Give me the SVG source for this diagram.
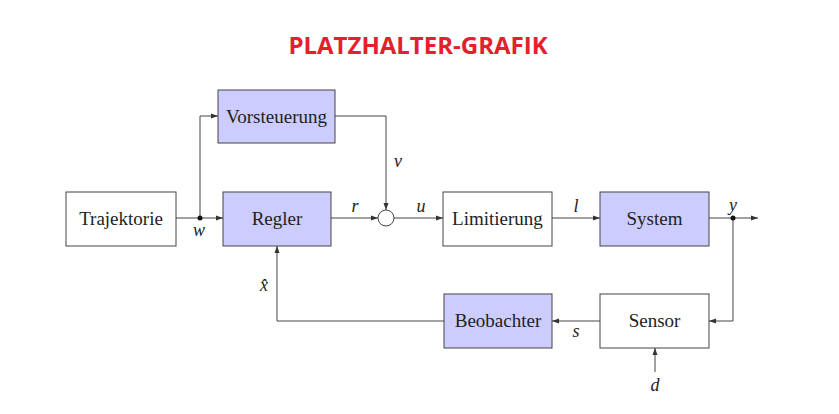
<svg xmlns="http://www.w3.org/2000/svg" width="839" height="414" viewBox="0 0 839 414">
<defs>
<marker id="arr" markerWidth="8" markerHeight="6" refX="7" refY="3" orient="auto" markerUnits="userSpaceOnUse">
<path d="M0,0.5 L7,3 L0,5.5 Z" fill="#333"/>
</marker>
</defs>
<style>
.box{stroke:#444;stroke-width:1;}
.w{fill:#ffffff;}
.b{fill:#ccccff;}
.lbl{font-family:"Liberation Serif","DejaVu Serif",serif;font-size:19px;fill:#222;text-anchor:middle;}
.var{font-family:"Liberation Serif","DejaVu Serif",serif;font-size:18px;font-style:italic;fill:#222;text-anchor:middle;}
.c{fill:none;stroke:#444;stroke-width:1;}
.title{font-family:"Open Sans","Liberation Sans",sans-serif;font-size:24px;font-weight:bold;fill:#e3202b;text-anchor:middle;}
</style>
<rect width="839" height="414" fill="#ffffff"/>
<text class="title" x="418" y="54">PLATZHALTER-GRAFIK</text>
<g id="connectors">
<path class="c" d="M176,218 H223" marker-end="url(#arr)"/>
<path class="c" d="M200,218 V116 H218" marker-end="url(#arr)"/>
<path class="c" d="M335,116 H386 V210" marker-end="url(#arr)"/>
<path class="c" d="M331,218 H378" marker-end="url(#arr)"/>
<path class="c" d="M394,218 H443" marker-end="url(#arr)"/>
<path class="c" d="M552,218 H600" marker-end="url(#arr)"/>
<path class="c" d="M709,218 H758" marker-end="url(#arr)"/>
<path class="c" d="M733,218 V321 H709" marker-end="url(#arr)"/>
<path class="c" d="M600,321 H552" marker-end="url(#arr)"/>
<path class="c" d="M444,321 H277 V246" marker-end="url(#arr)"/>
<path class="c" d="M655,372 V348" marker-end="url(#arr)"/>
<circle cx="200" cy="218" r="2.5" fill="#111"/>
<circle cx="733" cy="218" r="2.5" fill="#111"/>
<text class="var" x="199" y="236">w</text>
<text class="var" x="355" y="212">r</text>
<text class="var" x="421" y="212">u</text>
<text class="var" x="576" y="212">l</text>
<text class="var" x="733" y="211">y</text>
<text class="var" x="398" y="167">v</text>
<text class="var" x="576" y="337">s</text>
<text class="var" x="264" y="291">x̂</text>
<text class="var" x="655" y="391">d</text>
</g>
<g id="trajektorie"><rect class="box w" x="66" y="192" width="110" height="54"/><text class="lbl" x="121" y="225">Trajektorie</text></g>
<g id="regler"><rect class="box b" x="223" y="192" width="108" height="54"/><text class="lbl" x="277" y="225">Regler</text></g>
<g id="vorsteuerung"><rect class="box b" x="218" y="90" width="117" height="53"/><text class="lbl" x="276.5" y="123">Vorsteuerung</text></g>
<g id="summe"><circle class="box w" cx="386" cy="218" r="8"/></g>
<g id="limitierung"><rect class="box w" x="443" y="192" width="109" height="54"/><text class="lbl" x="497.5" y="225">Limitierung</text></g>
<g id="system"><rect class="box b" x="600" y="192" width="109" height="54"/><text class="lbl" x="654.5" y="225">System</text></g>
<g id="beobachter"><rect class="box b" x="444" y="294" width="108" height="54"/><text class="lbl" x="498" y="327">Beobachter</text></g>
<g id="sensor"><rect class="box w" x="600" y="294" width="109" height="54"/><text class="lbl" x="654.5" y="327">Sensor</text></g>
</svg>
